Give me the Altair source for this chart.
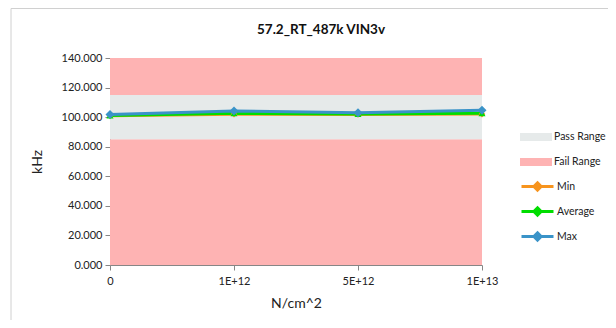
import altair as alt
import pandas as pd

# ---- data ----
x_labels = ["0", "1E+12", "5E+12", "1E+13"]
min_vals = [100.9, 102.0, 101.8, 102.1]
avg_vals = [101.1, 102.6, 102.2, 102.6]
max_vals = [101.8, 104.1, 103.0, 104.7]
series_names = ["Min", "Average", "Max"]
series_colors = ["#f7941d", "#00dd00", "#3a93c8"]
series_shapes = ["diamond", "triangle-up", "diamond"]
series_sizes = [45, 50, 80]

band_labels = ["Fail Range", "Pass Range", "Fail Range"]
band_lo = [0, 85, 115]
band_hi = [85, 115, 140]
band_names = ["Pass Range", "Fail Range"]
band_colors = ["#e6eaea", "#feb3b3"]

y_ticks = [0, 20, 40, 60, 80, 100, 120, 140]

rows = []
for name, vals in zip(series_names, [min_vals, avg_vals, max_vals]):
    for xl, v in zip(x_labels, vals):
        rows.append({"x": xl, "v": v, "series": name})
df = pd.DataFrame(rows)
bands = pd.DataFrame({"band": band_labels, "lo": band_lo, "hi": band_hi})

FONT = "Lato"
TXT = "#222222"
AX = "#868686"

x_scale = alt.Scale(type="point", domain=x_labels, padding=0)
x_axis = alt.Axis(
    title="N/cm^2", labelAngle=0, labelPadding=5, labelFont=FONT,
    labelFontSize=11, labelColor=TXT, labelOverlap=False,
    titleFont=FONT, titleY=38, titleBaseline="middle", titleFontSize=14,
    titleFontWeight="normal", titleColor=TXT,
    domainColor=AX, tickColor=AX, tickSize=5, grid=False,
)
y_scale = alt.Scale(domain=[0, 140], nice=False, zero=True)
y_axis = alt.Axis(
    title="kHz", values=y_ticks, format=".3f", labelPadding=3,
    labelOverlap=False, labelFont=FONT, labelFontSize=11, labelColor=TXT,
    titleFont=FONT, titleX=-73, titleY=103.5, titleFontSize=14,
    titleFontWeight="normal", titleBaseline="middle", titleAlign="center",
    titleColor=TXT, domainColor=AX, tickColor=AX, tickSize=5, grid=False,
)

band_layer = alt.Chart(bands).mark_rect().encode(
    y=alt.Y("lo:Q", scale=y_scale, axis=y_axis),
    y2="hi:Q",
    fill=alt.Fill(
        "band:N",
        scale=alt.Scale(domain=band_names, range=band_colors),
        legend=alt.Legend(
            title=None, orient="none", legendX=418, legendY=71,
            symbolType="M-2,-0.5H2V0.5H-2Z", symbolSize=256,
            symbolStrokeWidth=0, labelOffset=10, rowPadding=11,
            labelFontSize=10.5, labelFont=FONT, labelColor=TXT,
        ),
    ),
)

line_layer = alt.Chart(df).mark_line(strokeWidth=3).encode(
    x=alt.X("x:O", sort=x_labels, scale=x_scale, axis=x_axis),
    y=alt.Y("v:Q", scale=y_scale, axis=y_axis),
    stroke=alt.Stroke(
        "series:N",
        sort=series_names,
        scale=alt.Scale(domain=series_names, range=series_colors),
        legend=alt.Legend(
            title=None, orient="none", legendX=418, legendY=119,
            symbolType="M-2,0H2M0,-0.45L0.45,0L0,0.45L-0.45,0Z",
            symbolSize=256, symbolStrokeWidth=3, labelOffset=10,
            rowPadding=4, labelFontSize=10.5, labelFont=FONT,
            labelColor=TXT,
        ),
    ),
    detail="series:N",
)

point_layers = []
for name, col, shp, sz in zip(series_names, series_colors, series_shapes, series_sizes):
    point_layers.append(
        alt.Chart(df).transform_filter(alt.datum.series == name).mark_point(
            filled=True, opacity=1, color=col, shape=shp, size=sz
        ).encode(
            x=alt.X("x:O", sort=x_labels, scale=x_scale, axis=x_axis),
            y=alt.Y("v:Q", scale=y_scale, axis=y_axis),
        )
    )

frame_top = alt.Chart(alt.Data(values=[{}])).mark_rule(color="#d0d0d0", strokeWidth=1).encode(
    x=alt.value(-99), x2=alt.value(520), y=alt.value(-49.5)
)
frame_left = alt.Chart(alt.Data(values=[{}])).mark_rule(color="#d0d0d0", strokeWidth=1).encode(
    x=alt.value(-99), y=alt.value(-49.5), y2=alt.value(270)
)

chart = alt.layer(
    frame_top, frame_left, band_layer, line_layer, *point_layers
).properties(
    width=372,
    height=207,
    background="white",
    title=alt.TitleParams(
        "57.2_RT_487k VIN3v", fontSize=13.5, fontWeight="bold", font=FONT,
        anchor="middle", frame="group", dx=25, offset=-28, color="#111111",
    ),
    autosize=alt.AutoSizeParams(type="none"),
    padding={"left": 102, "top": 50, "right": 126, "bottom": 55},
).configure_view(
    stroke=None
)

chart.save("out.html", embed_options={"renderer": "svg", "actions": False})
